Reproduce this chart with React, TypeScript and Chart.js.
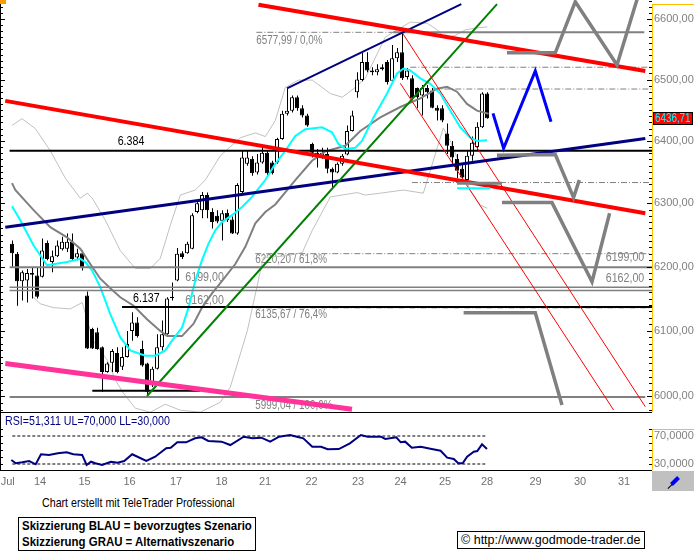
import React, { useEffect, useRef } from 'react';
import { Chart, registerables } from 'chart.js';

Chart.register(...registerables);

const ARIAL = "'Liberation Sans', Arial, sans-serif";
const NARROW_SCALE = 0.82;

// Hourly DAX candles (9 per session), 11 Jul - 28 Jul 2008; x = candle index
const opens = [
  6236, 6220, 6177, 6178, 6190, 6186, 6184, 6237, 6207, 6216,
  6227, 6228, 6239, 6214, 6221, 6155, 6103, 6098, 6075, 6037,
  6051, 6066, 6045, 6060, 6100, 6113, 6072, 6050, 6020, 6042,
  6075, 6095, 6151, 6178, 6221, 6221, 6228, 6286, 6289, 6313,
  6286, 6280, 6272, 6285, 6274, 6252, 6318, 6363, 6371, 6349,
  6365, 6381, 6365, 6365, 6403, 6444, 6449, 6471, 6453, 6441,
  6395, 6381, 6375, 6379, 6355, 6349, 6363, 6378, 6416, 6479,
  6499, 6529, 6515, 6512, 6520, 6529, 6498, 6535, 6545, 6504,
  6502, 6486, 6474, 6486, 6482, 6454, 6453, 6412, 6392, 6371,
  6355, 6337, 6376, 6390, 6422, 6477,
];
const highs = [
  6241, 6223, 6194, 6196, 6199, 6199, 6244, 6241, 6225, 6241,
  6247, 6252, 6252, 6228, 6225, 6161, 6105, 6105, 6076, 6052,
  6072, 6075, 6075, 6100, 6129, 6121, 6085, 6051, 6045, 6095,
  6116, 6152, 6175, 6229, 6224, 6239, 6284, 6305, 6318, 6317,
  6292, 6289, 6289, 6290, 6279, 6332, 6384, 6384, 6375, 6379,
  6390, 6384, 6368, 6405, 6449, 6485, 6474, 6474, 6458, 6444,
  6397, 6387, 6389, 6389, 6357, 6365, 6379, 6425, 6449, 6512,
  6544, 6545, 6520, 6525, 6525, 6532, 6557, 6552, 6577.99, 6519,
  6507, 6487, 6491, 6491, 6486, 6458, 6458, 6428, 6400, 6379,
  6363, 6384, 6407, 6430, 6479, 6479,
];
const lows = [
  6199, 6139, 6147, 6144, 6150, 6150, 6183, 6210, 6191, 6215,
  6225, 6223, 6210, 6210, 6194, 6072, 6072, 6071, 6007, 6036,
  6037, 6035, 6040, 6059, 6085, 6090, 6045, 5999.04, 6014, 6041,
  6070, 6094, 6147, 6177, 6212, 6220, 6227, 6284, 6276, 6276,
  6260, 6268, 6241, 6270, 6251, 6250, 6314, 6360, 6344, 6346,
  6363, 6344, 6346, 6363, 6402, 6441, 6446, 6449, 6438, 6423,
  6373, 6357, 6371, 6348, 6325, 6348, 6360, 6377, 6415, 6470,
  6497, 6512, 6507, 6507, 6515, 6492, 6496, 6529, 6499, 6500,
  6466, 6453, 6441, 6469, 6453, 6433, 6430, 6379, 6360, 6340,
  6333, 6333, 6368, 6384, 6421, 6436,
];
const closes = [
  6221, 6177, 6191, 6190, 6187, 6153, 6225, 6212, 6216, 6233,
  6239, 6239, 6212, 6221, 6199, 6073, 6073, 6072, 6037, 6050,
  6069, 6037, 6060, 6080, 6113, 6092, 6047, 6007, 6042, 6075,
  6095, 6150, 6153, 6220, 6215, 6236, 6281, 6300, 6313, 6289,
  6270, 6271, 6284, 6273, 6252, 6329, 6373, 6373, 6348, 6365,
  6381, 6348, 6348, 6403, 6444, 6449, 6471, 6453, 6441, 6425,
  6381, 6376, 6381, 6355, 6349, 6363, 6376, 6416, 6441, 6500,
  6529, 6515, 6512, 6517, 6517, 6496, 6535, 6545, 6502, 6515,
  6469, 6471, 6486, 6479, 6454, 6449, 6433, 6392, 6373, 6352,
  6341, 6376, 6397, 6423, 6477, 6436.71,
];

const priceTicks = [6000, 6100, 6200, 6300, 6400, 6500, 6600];
const dayTickPos = [-0.85, 5.6, 14.5, 23.5, 32.8, 41.9, 50.6, 59.9, 69.2, 77.7, 86.6, 95, 104.7, 113.6, 122.4];
const dayLabels = ['Jul', '14', '15', '16', '17', '18', '21', '22', '23', '24', '25', '28', '29', '30', '31'];

// moving averages and Bollinger bands, [index, price]
const fastMA = [[0, 6295], [1.66, 6273], [4.32, 6233], [7, 6202], [11, 6207], [13.66, 6212], [14.66, 6207], [16, 6194], [17.66, 6168], [19.66, 6126], [21.66, 6090], [23.66, 6070], [26.66, 6062], [28.66, 6062], [30.66, 6070], [32, 6085], [34, 6105], [35.3, 6136], [36.66, 6178], [38, 6210], [39.3, 6236], [40.66, 6257], [42, 6270], [44, 6281], [46, 6294], [47.66, 6307], [50.66, 6337], [52.66, 6363], [54.66, 6384], [56.66, 6408], [58.66, 6419], [62, 6422], [64, 6414], [65.3, 6395], [66.66, 6387], [68.66, 6389], [70, 6400], [72.3, 6438], [75, 6477], [77, 6510], [78.3, 6518], [79.66, 6515], [81.66, 6502], [83.66, 6493], [85.66, 6477], [87.66, 6449], [89.66, 6422], [91.66, 6405], [93, 6400], [95, 6401]];
const slowMA = [[0, 6332], [0.66, 6321], [4.32, 6289], [7.66, 6262], [11, 6246], [13.66, 6228], [15.66, 6204], [17.66, 6181], [19.66, 6166], [21.66, 6152], [24.32, 6139], [27, 6118], [29.66, 6100], [31, 6092], [34, 6092], [36.32, 6111], [38, 6136], [40, 6158], [42.06, 6178], [44.66, 6204], [46.66, 6231], [48.66, 6268], [50.66, 6286], [52.66, 6298], [56.66, 6337], [60, 6368], [62.66, 6383], [66.66, 6392], [69.66, 6416], [73.66, 6438], [77.66, 6455], [81.66, 6469], [85, 6485], [87, 6488], [89, 6480], [91, 6460], [93, 6449], [95.3, 6444]];
const bandUpper = [[0, 6425], [2, 6436], [4.66, 6420], [7.66, 6384], [10.66, 6340], [13.66, 6308], [15.06, 6316], [16.06, 6308], [18.66, 6273], [21.66, 6225], [24.66, 6197], [27.66, 6197], [29.66, 6213], [31.66, 6265], [33.66, 6313], [36.66, 6321], [38.66, 6337], [41.66, 6376], [45.66, 6405], [48.66, 6413], [50.66, 6407], [52.66, 6433], [54.66, 6487], [57.26, 6499], [60.06, 6499], [63.66, 6477], [66.06, 6471], [68.66, 6487], [70.66, 6502], [74.66, 6570], [79.66, 6595], [83.06, 6593], [85.06, 6582], [86.66, 6568], [88.66, 6573], [90.66, 6582], [92.66, 6585], [95.06, 6587]];
const bandLower = [[4.26, 6152], [5.66, 6142], [8.26, 6136], [11.66, 6134], [14.06, 6144], [15.06, 6116], [16.26, 6085], [19.06, 6055], [20.66, 6025], [22.26, 6005], [24.66, 5982], [27.66, 5976], [30.66, 5988], [33.66, 5979], [37.66, 5976], [41.66, 5991], [43.66, 6014], [47.06, 6100], [50.26, 6214], [55.06, 6217], [58.06, 6222], [60.06, 6257], [63.66, 6310], [69.06, 6317], [70.66, 6313], [73.66, 6316], [78.26, 6321], [82.26, 6316], [85.06, 6389], [86.26, 6421], [87.66, 6400], [89.66, 6360], [91.66, 6321], [93.66, 6297], [95.06, 6292]];

// hand-drawn analysis lines, [index, price]
const redUpper = [[49.3, 6624], [126.66, 6514]];
const redLower = [[-1.34, 6465], [126.66, 6284]];
const navyLong = [[-1.34, 6261.7], [126.66, 6404]];
const navyUpper = [[55, 6485.5], [89.86, 6625]];
const greenTrend = [[27, 6000.5], [97, 6625]];
const pinkTrend = [[-1.34, 6050], [68, 5980.3]];
const redChannelA = [[78, 6577.99], [126.66, 5984.3]];
const redChannelB = [[77.66, 6493.8], [120.32, 5979.3]];
const blueScenario = [[96.2, 6444.7], [98.32, 6388], [104.66, 6514], [107.8, 6431]];
const greyScenarioA = [[99, 6544], [108.66, 6544], [112.66, 6629], [121, 6524], [126, 6660]];
const greyScenarioB = [[97, 6377], [108.66, 6378], [112.32, 6309], [113.46, 6337]];
const greyScenarioC = [[98, 6301], [108, 6301], [116, 6176], [119.52, 6284]];
const greyScenarioD = [[90.32, 6128], [104.66, 6128], [110, 5987]];
const greyMark = [[89, 6332], [98, 6332]];
const cyanMark = [[89, 6324], [95.66, 6324]];

// horizontal levels: [price, fromIndex, toIndex]
const blackLevels = [[6384, -0.48, 128], [6137, 22, 128], [6008.5, 16.06, 37.66]];
const greyLevels = [[6199, -0.48, 128], [5999.04, -0.48, 126.66], [6577.99, 76.26, 126.46]];
const greyThinLevels = [[6167.5, -0.48, 128], [6162.5, -0.48, 128]];
const fibLevels = [[6577.99, 48.86, 76.26], [6220.2, 48.66, 127.86], [6135.67, 48.66, 127.86], [6520.2, 79.66, 127.86], [6484.4, 84.26, 127.86], [6333, 80, 127.86]];

const levelLabels = [
  { text: '6577,99 / 0,0%', x: 48.86, value: 6577.99, dy: 2, align: 'left', color: '#808080', size: 12 },
  { text: '6220,20 / 61,8%', x: 48.66, value: 6220.2, dy: 0, align: 'left', color: '#808080', size: 12 },
  { text: '6135,67 / 76,4%', x: 48.66, value: 6135.67, dy: 1, align: 'left', color: '#808080', size: 12 },
  { text: '5999,04 / 100,0%', x: 48.66, value: 5999.04, dy: 3, align: 'left', color: '#808080', size: 12 },
  { text: '6199,00', x: 34.66, value: 6199, dy: 4, align: 'left', color: '#808080', size: 13 },
  { text: '6162,00', x: 34.66, value: 6162.5, dy: 3, align: 'left', color: '#808080', size: 13 },
  { text: '6199,00', x: 126.46, value: 6199, dy: -3, align: 'right', color: '#808080', size: 13 },
  { text: '6162,00', x: 126.46, value: 6167.5, dy: -2, align: 'right', color: '#808080', size: 13 },
  { text: '6.384', x: 23.8, value: 6384, dy: -3, align: 'center', color: '#000000', size: 13 },
  { text: '6.137', x: 24.2, value: 6137, dy: -2, align: 'left', color: '#000000', size: 13 },
];

// RSI(14) values, [index, rsi]
const rsiValues = [[-0.14, 35.7], [0.76, 31], [2.06, 32.4], [3.42, 34.3], [4.74, 29.6], [5.8, 43.9], [7.4, 42.9], [9.16, 45.3], [10.94, 46.7], [12.26, 43.9], [14.04, 42.9], [14.92, 28.6], [15.8, 33.3], [16.66, 31], [18.02, 28.6], [19.78, 33.3], [21.12, 31.9], [22.44, 34.3], [24.04, 43.9], [25.1, 40.4], [26.86, 34.3], [28.64, 40.4], [30.84, 52.4], [31.74, 53.3], [33.06, 61], [34.82, 61], [36.6, 66.7], [37.92, 68.1], [39.26, 62.9], [41.9, 61.9], [43.66, 57.1], [46.34, 69], [48.1, 66.7], [49.86, 67.6], [51.64, 61.9], [53.42, 69], [55.62, 71.4], [56.96, 69], [58.26, 66.7], [60.06, 54.7], [61.82, 54.7], [63.14, 51], [65.36, 51.4], [67.58, 59.6], [69.78, 71.4], [71.12, 69], [73.76, 69], [74.66, 65.7], [76.86, 68.1], [77.74, 61], [78.64, 61.9], [79.96, 53.3], [81.74, 54.7], [83.94, 51.4], [85.72, 49], [87.04, 39], [88.36, 37.1], [89.26, 31], [90.14, 31], [91.02, 40.4], [92.36, 47.6], [93.06, 48.6], [94, 58.1], [95, 51.311]];
const rsiLimits = [70, 30];
const rsiTicks = [30, 70];

const X_MIN = -2.4;
const X_MAX = 128;

const seg = (pts: number[][], color: string, width: number, order: number, dash: number[] = []) => ({
  type: 'line' as const,
  data: pts.map(([x, y]) => ({ x, y })),
  borderColor: color,
  borderWidth: width,
  borderDash: dash,
  pointRadius: 0,
  fill: false,
  tension: 0,
  order,
  borderCapStyle: 'butt' as const,
});

const fmt2 = (v: number) => v.toFixed(2).replace('.', ',');

function narrowText(ctx: any, text: string, x: number, y: number, size: number, align: string, baseline: string, color: string) {
  ctx.save();
  ctx.translate(x, y);
  ctx.scale(NARROW_SCALE, 1);
  ctx.font = `${size}px ${ARIAL}`;
  ctx.fillStyle = color;
  ctx.textAlign = align;
  ctx.textBaseline = baseline;
  ctx.fillText(text, 0, 0);
  ctx.restore();
}

const mainDecor = {
  id: 'mainDecor',
  beforeDatasetsDraw(chart: any) {
    const { ctx, scales } = chart;
    for (const l of levelLabels) {
      const px = scales.x.getPixelForValue(l.x);
      const py = scales.y.getPixelForValue(l.value) + l.dy;
      narrowText(ctx, l.text, px, py, l.size, l.align, l.dy >= 0 ? 'top' : 'bottom', l.color);
    }
  },
  afterDatasetsDraw(chart: any) {
    const { ctx, chartArea: a, scales, width } = chart;
    const ys = scales.y;
    ctx.save();
    ctx.strokeStyle = '#000';
    ctx.lineWidth = 1;
    ctx.beginPath();
    for (let v = 5980; v <= 6630; v += 10) {
      const py = Math.round(ys.getPixelForValue(v)) + 0.5;
      const len = v % 100 === 0 ? 5 : 3;
      ctx.moveTo(a.left, py); ctx.lineTo(a.left + len, py);
      ctx.moveTo(a.right - len, py); ctx.lineTo(a.right, py);
    }
    ctx.moveTo(a.left + 0.5, a.top); ctx.lineTo(a.left + 0.5, a.bottom);
    ctx.stroke();
    ctx.strokeStyle = '#ffc000';
    ctx.beginPath();
    ctx.moveTo(a.right + 0.5, 4); ctx.lineTo(a.right + 0.5, a.bottom);
    ctx.moveTo(a.right, 4.5); ctx.lineTo(width, 4.5);
    ctx.stroke();
    ctx.fillStyle = '#ff9900';
    ctx.fillRect(0, 0, 6, 4);
    const last = closes[closes.length - 1];
    const py = Math.round(ys.getPixelForValue(last));
    ctx.fillStyle = '#ff0000';
    ctx.fillRect(a.right + 1, py - 6, width - a.right - 2, 13);
    ctx.strokeStyle = '#000';
    ctx.strokeRect(a.right + 1.5, py - 5.5, width - a.right - 3, 12);
    ctx.restore();
    narrowText(ctx, fmt2(last), a.right + 3, py + 1, 12, 'left', 'middle', '#00ffff');
  },
};

const rsiDecor = {
  id: 'rsiDecor',
  afterDatasetsDraw(chart: any) {
    const { ctx, chartArea: a, scales, width } = chart;
    const ys = scales.y;
    ctx.save();
    ctx.strokeStyle = '#000';
    ctx.lineWidth = 1;
    ctx.beginPath();
    ctx.moveTo(0, 0.5); ctx.lineTo(a.right, 0.5);
    ctx.moveTo(0, a.bottom + 0.5); ctx.lineTo(a.right, a.bottom + 0.5);
    ctx.moveTo(0.5, 0); ctx.lineTo(0.5, a.bottom);
    for (let v = 30; v <= 80; v += 10) {
      const py = Math.round(ys.getPixelForValue(v)) + 0.5;
      ctx.moveTo(a.left, py); ctx.lineTo(a.left + 3, py);
      ctx.moveTo(a.right - 3, py); ctx.lineTo(a.right, py);
    }
    ctx.stroke();
    ctx.strokeStyle = '#ffc000';
    ctx.beginPath();
    ctx.moveTo(a.right + 0.5, 17); ctx.lineTo(a.right + 0.5, a.bottom);
    ctx.moveTo(a.right, 17.5); ctx.lineTo(width, 17.5);
    ctx.stroke();
    ctx.restore();
  },
};

function mainConfig(): any {
  const up = opens.map((o, i) => closes[i] >= o);
  const datasets: any[] = [
    seg(bandUpper, '#c0c0c0', 1, 40),
    seg(bandLower, '#c0c0c0', 1, 40),
    {
      type: 'bar',
      data: highs.map((h, i) => ({ x: i, y: [lows[i], h] })),
      backgroundColor: '#000',
      barThickness: 1,
      grouped: false,
      inflateAmount: 0,
      xAxisID: 'x2',
      order: 31,
    },
    {
      type: 'bar',
      data: opens.map((o, i) => ({ x: i, y: [o, closes[i]] })),
      backgroundColor: up.map((u) => (u ? '#ffffff' : '#000000')),
      borderColor: '#000',
      borderWidth: 1,
      borderSkipped: false,
      barThickness: 4,
      grouped: false,
      inflateAmount: 0,
      order: 30,
    },
    seg(slowMA, '#808080', 2, 21),
    seg(fastMA, '#00ffff', 2, 20),
  ];
  fibLevels.forEach(([v, a, b]) => datasets.push(seg([[a, v], [b, v]], '#808080', 1, 12, [6, 2, 1, 2])));
  greyLevels.forEach(([v, a, b]) => datasets.push(seg([[a, v], [b, v]], '#808080', 2, 11)));
  greyThinLevels.forEach(([v, a, b]) => datasets.push(seg([[a, v], [b, v]], '#808080', 1.5, 11)));
  blackLevels.forEach(([v, a, b]) => datasets.push(seg([[a, v], [b, v]], '#000000', 2, 10)));
  datasets.push(
    seg(redChannelA, '#ff0000', 1, 9),
    seg(redChannelB, '#ff0000', 1, 9),
    seg(navyLong, '#000080', 3, 8),
    seg(navyUpper, '#000080', 2, 8),
    seg(greenTrend, '#008000', 2, 7),
    seg(redUpper, '#ff0000', 4, 6),
    seg(redLower, '#ff0000', 4, 6),
    seg(pinkTrend, '#ff3399', 5, 6),
    seg(cyanMark, '#00ffff', 2, 5),
    seg(greyMark, '#808080', 3, 4),
    seg(greyScenarioA, '#808080', 3.5, 3),
    seg(greyScenarioB, '#808080', 3.5, 3),
    seg(greyScenarioC, '#808080', 3.5, 3),
    seg(greyScenarioD, '#808080', 3.5, 3),
    seg(blueScenario, '#0000ff', 3, 2),
  );
  return {
    type: 'bar',
    data: { datasets },
    plugins: [mainDecor],
    options: {
      animation: false,
      responsive: false,
      devicePixelRatio: 1,
      events: [],
      layout: { padding: 0, autoPadding: false },
      plugins: { legend: { display: false }, tooltip: { enabled: false } },
      scales: {
        x: { type: 'linear', min: X_MIN, max: X_MAX, display: false, offset: false },
        x2: { type: 'linear', min: X_MIN - 0.1, max: X_MAX - 0.1, display: false, offset: false },
        y: {
          type: 'logarithmic',
          position: 'right',
          min: 5976.3,
          max: 6631.9,
          bounds: 'data',
          afterBuildTicks: (s: any) => { s.ticks = priceTicks.map((v) => ({ value: v })); },
          afterFit: (s: any) => { s.width = 42; s.paddingTop = 0; s.paddingBottom = 0; },
          grid: { display: false, drawTicks: false },
          border: { display: false },
          ticks: { padding: 2, color: '#808080', font: { family: ARIAL, size: 11 }, callback: (v: number) => fmt2(v) },
        },
      },
    },
  };
}

function rsiConfig(): any {
  const datasets: any[] = [
    ...rsiLimits.map((v) => seg([[0.06, v], [95.06, v]], '#000000', 1, 5, [3, 2])),
    seg(rsiValues, '#000080', 2, 1),
  ];
  return {
    type: 'line',
    data: { datasets },
    plugins: [rsiDecor],
    options: {
      animation: false,
      responsive: false,
      devicePixelRatio: 1,
      events: [],
      layout: { padding: { top: 2, left: 0, right: 0, bottom: 0 }, autoPadding: false },
      plugins: { legend: { display: false }, tooltip: { enabled: false } },
      scales: {
        x: {
          type: 'linear',
          min: X_MIN,
          max: X_MAX,
          offset: false,
          afterBuildTicks: (s: any) => { s.ticks = dayTickPos.map((v) => ({ value: v })); },
          afterFit: (s: any) => { s.height = 22; s.paddingLeft = 0; s.paddingRight = 0; },
          grid: { display: false, drawTicks: false },
          border: { display: false },
          ticks: {
            autoSkip: false,
            maxRotation: 0,
            minRotation: 0,
            padding: 5,
            color: '#707070',
            font: { family: ARIAL, size: 11 },
            callback: (_v: number, i: number) => dayLabels[i],
          },
        },
        y: {
          type: 'linear',
          position: 'right',
          min: 21.43,
          max: 101.43,
          afterBuildTicks: (s: any) => { s.ticks = rsiTicks.map((v) => ({ value: v })); },
          afterFit: (s: any) => { s.width = 42; s.paddingTop = 0; s.paddingBottom = 0; },
          grid: { display: false, drawTicks: false },
          border: { display: false },
          ticks: { padding: 2, color: '#808080', font: { family: ARIAL, size: 11 }, callback: (v: number) => v.toFixed(4).replace('.', ',') },
        },
      },
    },
  };
}

const narrowSpan = (scale: number): React.CSSProperties => ({
  display: 'inline-block',
  transform: `scaleX(${scale})`,
  transformOrigin: 'left center',
  whiteSpace: 'nowrap',
});

export default function App() {
  const mainRef = useRef<HTMLCanvasElement>(null);
  const rsiRef = useRef<HTMLCanvasElement>(null);
  useEffect(() => {
    const main = new Chart(mainRef.current as HTMLCanvasElement, mainConfig());
    const rsi = new Chart(rsiRef.current as HTMLCanvasElement, rsiConfig());
    return () => { main.destroy(); rsi.destroy(); };
  }, []);
  const lastRsi = rsiValues[rsiValues.length - 1][1];
  return (
    <div style={{ position: 'absolute', left: 0, top: 0, width: 694, height: 554, background: '#fff', overflow: 'hidden', fontFamily: ARIAL }}>
      <canvas ref={mainRef} width={694} height={412} style={{ position: 'absolute', left: 0, top: 0, width: 694, height: 412, display: 'block' }} />
      <canvas ref={rsiRef} width={694} height={80} style={{ position: 'absolute', left: 0, top: 412, width: 694, height: 80, display: 'block' }} />
      <div style={{ position: 'absolute', left: 5, top: 414, fontSize: 13, lineHeight: '14px', color: '#000080', whiteSpace: 'nowrap' }}>
        <span style={narrowSpan(NARROW_SCALE)}>{`RSI=${lastRsi.toFixed(3).replace('.', ',')} UL=70,000 LL=30,000`}</span>
      </div>
      <div style={{ position: 'absolute', left: 652, top: 471, width: 42, height: 20, background: '#c0c0c0' }}>
        <div style={{ position: 'absolute', left: 18, top: 8, width: 10, height: 4, background: '#0000ff', transform: 'rotate(-45deg)' }} />
        <div style={{ position: 'absolute', left: 15, top: 15, width: 6, height: 1, background: '#000', transform: 'rotate(-45deg)' }} />
      </div>
      <div style={{ position: 'absolute', left: 42, top: 496, fontSize: 13, lineHeight: '14px', color: '#000', whiteSpace: 'nowrap' }}>
        <span style={narrowSpan(NARROW_SCALE)}>Chart erstellt mit TeleTrader Professional</span>
      </div>
      <div style={{ position: 'absolute', left: 18, top: 517, width: 236, height: 32, border: '1px solid #000', fontWeight: 'bold', fontSize: 13, lineHeight: '16px', color: '#000', whiteSpace: 'nowrap' }}>
        <div style={{ paddingLeft: 3 }}><span style={narrowSpan(0.88)}>Skizzierung BLAU = bevorzugtes Szenario</span></div>
        <div style={{ paddingLeft: 3 }}><span style={narrowSpan(0.88)}>Skizzierung GRAU = Alternativszenario</span></div>
      </div>
      <div style={{ position: 'absolute', left: 457, top: 531, width: 188, height: 18, border: '1px solid #000', fontSize: 12.5, lineHeight: '17px', color: '#000', whiteSpace: 'nowrap', paddingLeft: 3, boxSizing: 'border-box' }}>
        © http://www.godmode-trader.de
      </div>
    </div>
  );
}
